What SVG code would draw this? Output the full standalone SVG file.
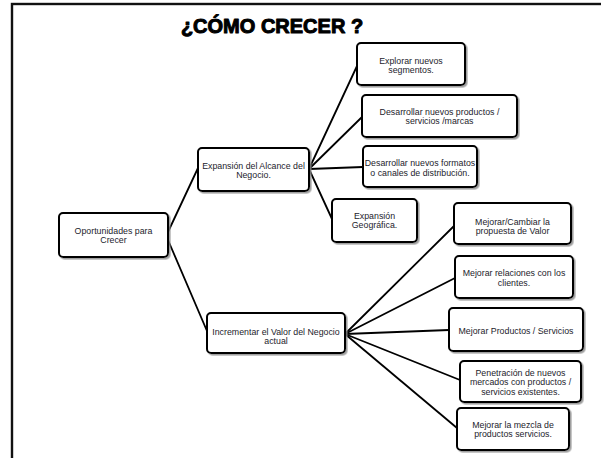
<svg xmlns="http://www.w3.org/2000/svg" width="601" height="458" viewBox="0 0 601 458">
  <defs>
    <filter id="shadow" x="-10%" y="-20%" width="130%" height="150%">
      <feDropShadow dx="1.6" dy="1.6" stdDeviation="0.7" flood-color="#888" flood-opacity="0.8"/>
    </filter>
    <style>
      .frame { fill: none; stroke: #111; stroke-width: 2.4; }
      .title { font-family: "Liberation Sans", Arial, sans-serif; font-weight: bold; font-size: 20px; fill: #000; stroke: #000; stroke-width: 1; stroke-linejoin: round; text-anchor: middle; }
      .box { fill: #fff; stroke: #000; stroke-width: 2; filter: url(#shadow); }
      .lbl { font-family: "Liberation Sans", Arial, sans-serif; font-size: 8.8px; fill: #1c1c2c; text-anchor: middle; }
      .edge { stroke: #000; stroke-width: 1.8; fill: none; stroke-linecap: round; }
    </style>
  </defs>

  <rect width="601" height="458" fill="#fff"/>
  <rect class="frame" x="12" y="4" width="640" height="500"/>
  <text class="title" x="272" y="33">¿CÓMO CRECER ?</text>

  <g id="connectors">
    <line class="edge" x1="168" y1="232" x2="198" y2="168"/>
    <line class="edge" x1="168" y1="240" x2="207" y2="331"/>
    <line class="edge" x1="309" y1="169" x2="357" y2="66"/>
    <line class="edge" x1="309" y1="169" x2="362" y2="117"/>
    <line class="edge" x1="309" y1="169" x2="363" y2="167"/>
    <line class="edge" x1="309" y1="169" x2="332" y2="219"/>
    <line class="edge" x1="345" y1="334" x2="454" y2="226"/>
    <line class="edge" x1="345" y1="334" x2="455" y2="278"/>
    <line class="edge" x1="345" y1="334" x2="449" y2="330"/>
    <line class="edge" x1="345" y1="334" x2="460" y2="380"/>
    <line class="edge" x1="345" y1="334" x2="457" y2="428"/>
  </g>

  <g id="n-oportunidades">
    <rect class="box" x="59" y="213" width="109" height="44" rx="4"/>
    <text class="lbl" x="113.5" y="233.5">Oportunidades para</text>
    <text class="lbl" x="113.5" y="242.5">Crecer</text>
  </g>

  <g id="n-expansion-alcance">
    <rect class="box" x="198" y="148" width="111" height="43" rx="4"/>
    <text class="lbl" x="253.5" y="168.5">Expansión del Alcance del</text>
    <text class="lbl" x="253.5" y="178">Negocio.</text>
  </g>

  <g id="n-explorar">
    <rect class="box" x="357" y="43" width="108" height="42" rx="4"/>
    <text class="lbl" x="411" y="63.5">Explorar nuevos</text>
    <text class="lbl" x="411" y="72.5">segmentos.</text>
  </g>

  <g id="n-productos-marcas">
    <rect class="box" x="362" y="95" width="155" height="42" rx="4"/>
    <text class="lbl" x="439.5" y="114.5">Desarrollar nuevos productos /</text>
    <text class="lbl" x="439.5" y="124">servicios /marcas</text>
  </g>

  <g id="n-formatos">
    <rect class="box" x="363" y="146" width="114" height="41" rx="4"/>
    <text class="lbl" x="420" y="166">Desarrollar nuevos formatos</text>
    <text class="lbl" x="420" y="175.5">o canales de distribución.</text>
  </g>

  <g id="n-geografica">
    <rect class="box" x="332" y="199" width="85" height="43" rx="4"/>
    <text class="lbl" x="374.5" y="219">Expansión</text>
    <text class="lbl" x="374.5" y="228">Geográfica.</text>
  </g>

  <g id="n-incrementar">
    <rect class="box" x="207" y="313" width="138" height="40" rx="4"/>
    <text class="lbl" x="276" y="334.5">Incrementar el Valor del Negocio</text>
    <text class="lbl" x="276" y="343.5">actual</text>
  </g>

  <g id="n-propuesta">
    <rect class="box" x="454" y="203" width="117" height="41" rx="4"/>
    <text class="lbl" x="512.5" y="224.5">Mejorar/Cambiar la</text>
    <text class="lbl" x="512.5" y="233.5">propuesta de Valor</text>
  </g>

  <g id="n-relaciones">
    <rect class="box" x="455" y="256" width="118" height="42" rx="4"/>
    <text class="lbl" x="514" y="276">Mejorar relaciones con los</text>
    <text class="lbl" x="514" y="285.5">clientes.</text>
  </g>

  <g id="n-mejorar-productos">
    <rect class="box" x="449" y="308" width="134" height="43" rx="4"/>
    <text class="lbl" x="516" y="333.5">Mejorar Productos / Servicios</text>
  </g>

  <g id="n-penetracion">
    <rect class="box" x="460" y="361" width="121" height="41" rx="4"/>
    <text class="lbl" x="520.5" y="375.5">Penetración de nuevos</text>
    <text class="lbl" x="520.5" y="385">mercados con productos /</text>
    <text class="lbl" x="520.5" y="394.5">servicios existentes.</text>
  </g>

  <g id="n-mezcla">
    <rect class="box" x="457" y="408" width="112" height="42" rx="4"/>
    <text class="lbl" x="513" y="428">Mejorar la mezcla de</text>
    <text class="lbl" x="513" y="437">productos servicios.</text>
  </g>
</svg>
